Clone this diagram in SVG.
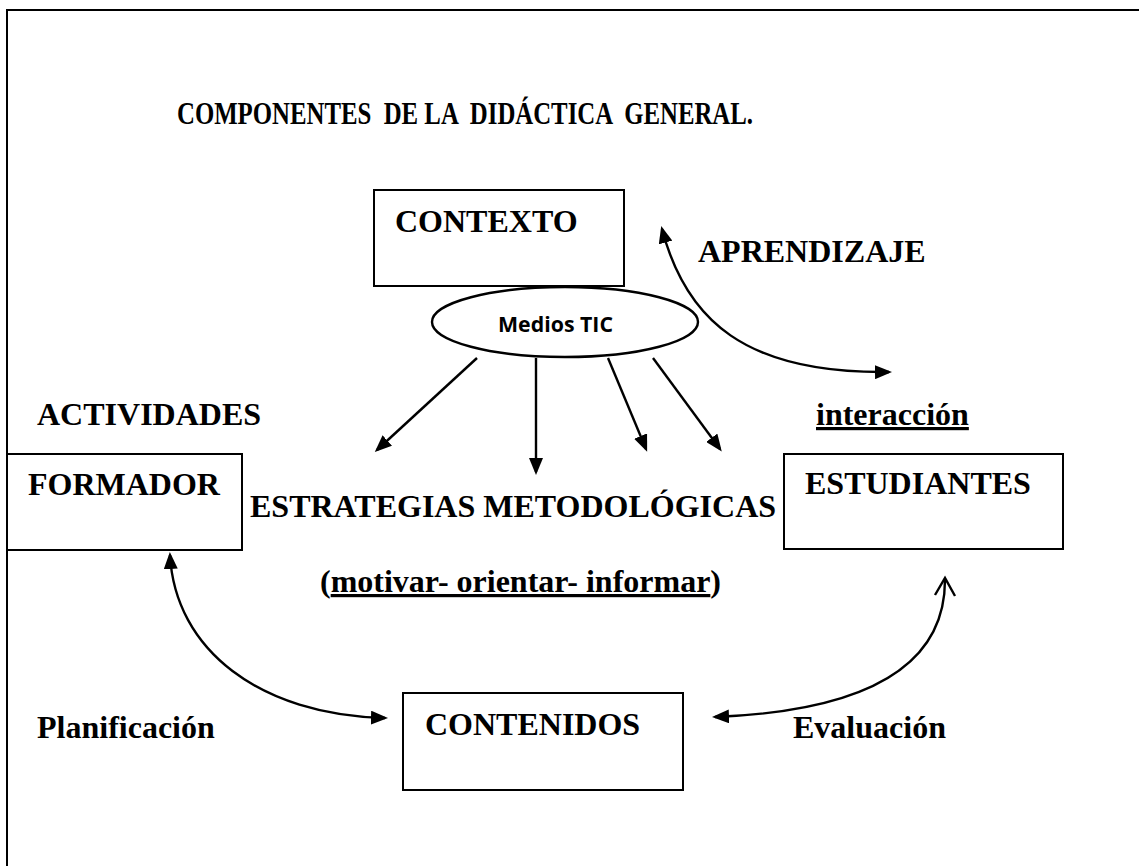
<svg xmlns="http://www.w3.org/2000/svg" width="1139" height="866" viewBox="0 0 1139 866">
<style>
.t{font-family:"Liberation Serif","Times New Roman",serif;font-weight:bold;font-size:32px;fill:#000}
.box{fill:#fff;stroke:#000;stroke-width:2}
.ln{fill:none;stroke:#000;stroke-width:2.4}
.tic{font-family:"Open Sans","Liberation Sans",sans-serif;font-weight:bold;font-size:21px;fill:#000}
</style>
<defs>
<marker id="ah" markerUnits="userSpaceOnUse" markerWidth="18" markerHeight="14" refX="14" refY="7" orient="auto-start-reverse">
<path d="M0,0 L17,7 L0,14 z" fill="#000"/>
</marker>
</defs>
<rect x="7" y="10" width="1200" height="900" fill="#fff" stroke="#000" stroke-width="2"/>
<text class="t" x="177" y="124" font-size="34" textLength="576" lengthAdjust="spacingAndGlyphs" xml:space="preserve">COMPONENTES  DE LA  DIDÁCTICA  GENERAL.</text>
<g id="contexto">
<rect class="box" x="374" y="190" width="250" height="96"/>
<text class="t" x="395" y="232">CONTEXTO</text>
</g>
<g id="medios">
<ellipse cx="565" cy="322" rx="133" ry="35" class="ln" fill="#fff" stroke-width="2"/>
<text class="tic" x="498" y="332" textLength="115" lengthAdjust="spacingAndGlyphs">Medios TIC</text>
</g>
<g id="formador">
<rect class="box" x="7" y="454" width="235" height="96"/>
<text class="t" x="28" y="495">FORMADOR</text>
</g>
<g id="estudiantes">
<rect class="box" x="784" y="454" width="279" height="95"/>
<text class="t" x="805" y="494">ESTUDIANTES</text>
</g>
<g id="contenidos">
<rect class="box" x="403" y="693" width="280" height="97"/>
<text class="t" x="425" y="735">CONTENIDOS</text>
</g>
<g id="estrategias">
<text class="t" x="250" y="517">ESTRATEGIAS METODOLÓGICAS</text>
<text class="t" x="320" y="592">(<tspan text-decoration="underline">motivar- orientar- informar</tspan>)</text>
</g>
<g id="labels">
<text class="t" x="698" y="262">APRENDIZAJE</text>
<text class="t" x="37" y="425">ACTIVIDADES</text>
<text class="t" x="816" y="425" text-decoration="underline">interacción</text>
<text class="t" x="37" y="738">Planificación</text>
<text class="t" x="793" y="738">Evaluación</text>
</g>
<g id="connectors">
<line class="ln" x1="477" y1="358" x2="377" y2="450" marker-end="url(#ah)"/>
<line class="ln" x1="536" y1="358" x2="536" y2="472" marker-end="url(#ah)"/>
<line class="ln" x1="608" y1="358" x2="646" y2="449" marker-end="url(#ah)"/>
<line class="ln" x1="653" y1="358" x2="720" y2="449" marker-end="url(#ah)"/>
<path class="ln" d="M662,229 C686,320 745,374 889,372" marker-start="url(#ah)" marker-end="url(#ah)"/>
<path class="ln" d="M170,555 C175,650 260,715 385,718" marker-start="url(#ah)" marker-end="url(#ah)"/>
<path class="ln" d="M945,580 C945,680 840,712 715,717" marker-end="url(#ah)"/>
<path class="ln" d="M935,595 L945,578 L955,596"/>
</g>
</svg>
